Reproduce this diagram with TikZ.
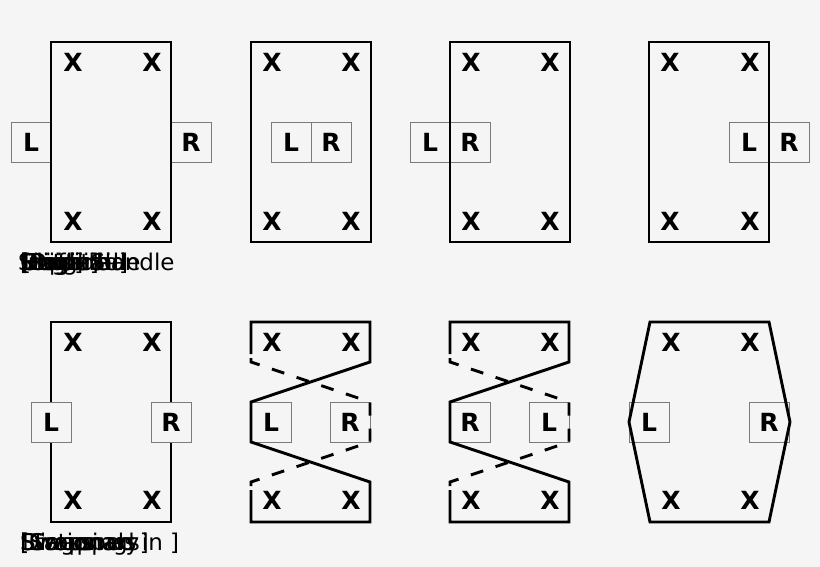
\documentclass[tikz,border=0pt]{standalone}
\usepackage{fontspec}
\setmainfont{DejaVu Sans}
\definecolor{bg}{HTML}{F5F5F5}
\definecolor{boxline}{HTML}{7A7A7A}
\begin{document}
\begin{tikzpicture}[x=1pt,y=-1pt,
  frame/.style={line width=2.9pt, line join=miter},
  dashframe/.style={frame, dash pattern=on 13pt off 13pt},
  lrbox/.style={draw=boxline, line width=0.9pt, fill=bg, minimum width=40pt, minimum height=40pt, inner sep=0pt, font=\bfseries\fontsize{25}{25}\selectfont},
  lrboxopen/.style={lrbox, fill=none},
  xmark/.style={inner sep=0pt, font=\bfseries\fontsize{25}{25}\selectfont},
  lbl/.style={inner sep=0pt, anchor=base west, font=\fontsize{23}{23}\selectfont}]
\fill[bg] (0,0) rectangle (820,567);
\useasboundingbox (0,0) rectangle (820,567);

% ---------- Panel 1
\node[lrbox] (l1) at (31,142) {L};
\node[lrbox] (r1) at (191,142) {R};
\draw[frame] (51,42) rectangle (171,242);
\node[xmark] (x1a) at (73,62) {X};
\node[xmark] (x1b) at (152,62) {X};
\node[xmark] (x1c) at (73,221) {X};
\node[xmark] (x1d) at (152,221) {X};

% ---------- Panel 2
\draw[frame] (251,42) rectangle (371,242);
\node[lrbox] (l2) at (291,142) {L};
\node[lrbox] (r2) at (331,142) {R};
\node[xmark] (x2a) at (272,62) {X};
\node[xmark] (x2b) at (351,62) {X};
\node[xmark] (x2c) at (272,221) {X};
\node[xmark] (x2d) at (351,221) {X};

% ---------- Panel 3
\node[lrbox] (l3) at (430,142) {L};
\node[lrbox] (r3) at (470,142) {R};
\draw[frame] (450,42) rectangle (570,242);
\node[xmark] (x3a) at (471,62) {X};
\node[xmark] (x3b) at (550,62) {X};
\node[xmark] (x3c) at (471,221) {X};
\node[xmark] (x3d) at (550,221) {X};

% ---------- Panel 4
\node[lrbox] (l4) at (749,142) {L};
\node[lrbox] (r4) at (789,142) {R};
\draw[frame] (649,42) rectangle (769,242);
\node[xmark] (x4a) at (670,62) {X};
\node[xmark] (x4b) at (750,62) {X};
\node[xmark] (x4c) at (670,221) {X};
\node[xmark] (x4d) at (750,221) {X};

% ---------- top caption (overlapping texts, as in the reference)
\node[lbl] (t1) at (20,270) {[Original]};
\node[lbl] (t2) at (21,270) {Original};
\node[lbl] (t3) at (20,270) {[Right]};
\node[lbl] (t4) at (22,270) {[Left] Side};
\node[lbl] (t5) at (21,270) {Inside};
\node[lbl] (t6) at (20,270) {Outside};
\node[lbl] (t7) at (23,270) {Flip side};
\node[lbl] (t8) at (18,270) {Single handle};

% ---------- Panel 5
\draw[frame] (51,322) rectangle (171,522);
\node[lrbox] (l5) at (51,422) {L};
\node[lrbox] (r5) at (171,422) {R};
\node[xmark] (x5a) at (73,342) {X};
\node[xmark] (x5b) at (152,342) {X};
\node[xmark] (x5c) at (73,500) {X};
\node[xmark] (x5d) at (152,500) {X};

% ---------- Panel 6
\node[lrboxopen] (l6) at (271,422) {L};
\node[lrboxopen] (r6) at (350,422) {R};
\draw[dashframe] (251,486) -- (251,482) -- (370,442) -- (370,402) -- (251,362) -- (251,358);
\draw[frame] (251,354) -- (251,322) -- (370,322) -- (370,362) -- (251,402) -- (251,442) -- (370,482) -- (370,522) -- (251,522) -- (251,490);
\node[xmark] (x6a) at (272,342) {X};
\node[xmark] (x6b) at (351,342) {X};
\node[xmark] (x6c) at (272,500) {X};
\node[xmark] (x6d) at (351,500) {X};

% ---------- Panel 7
\node[lrboxopen] (r7) at (470,422) {R};
\node[lrboxopen] (l7) at (549,422) {L};
\draw[dashframe] (450,486) -- (450,482) -- (569,442) -- (569,402) -- (450,362) -- (450,358);
\draw[frame] (450,354) -- (450,322) -- (569,322) -- (569,362) -- (450,402) -- (450,442) -- (569,482) -- (569,522) -- (450,522) -- (450,490);
\node[xmark] (x7a) at (471,342) {X};
\node[xmark] (x7b) at (550,342) {X};
\node[xmark] (x7c) at (471,500) {X};
\node[xmark] (x7d) at (550,500) {X};

% ---------- Panel 8
\node[lrboxopen] (l8) at (649,422) {L};
\node[lrboxopen] (r8) at (769,422) {R};
\draw[frame] (650,322) -- (769,322) -- (790,422) -- (769,522) -- (650,522) -- (629,422) -- cycle;
\node[xmark] (x8a) at (671,342) {X};
\node[xmark] (x8b) at (750,342) {X};
\node[xmark] (x8c) at (671,500) {X};
\node[xmark] (x8d) at (750,500) {X};

% ---------- bottom caption (overlapping texts, as in the reference)
\node[lbl] (b1) at (20,550) {Stationary};
\node[lbl] (b2) at (21,550) {Swaps};
\node[lbl] (b3) at (20,550) {[Crossings]};
\node[lbl] (b4) at (22,550) {Diagonals};
\node[lbl] (b5) at (20,550) {[Swapped in ]};
\end{tikzpicture}
\end{document}
